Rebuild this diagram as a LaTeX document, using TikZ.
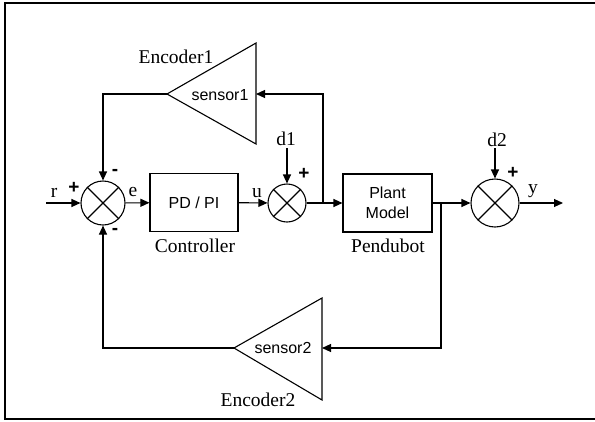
\documentclass[tikz,border=0pt]{standalone}
\usepackage{fontspec}
\setmainfont{Liberation Serif}
\setsansfont{Liberation Sans}
\usetikzlibrary{arrows.meta}
\begin{document}
\begin{tikzpicture}[x=1pt,y=-1pt,
  line width=1.1pt,
  >={Triangle[length=9pt,width=8pt]},
  blk/.style={draw,minimum width=88pt,minimum height=58pt,inner sep=0pt,
    font=\sffamily\fontsize{16}{20}\selectfont,align=center},
  sumc/.style={draw,circle,inner sep=0pt,minimum size=#1},
  lbl/.style={font=\fontsize{19.5}{22}\selectfont,inner sep=0pt},
  sns/.style={font=\sffamily\fontsize{16}{19}\selectfont,inner sep=0pt},
  sgn/.style={font=\sffamily\bfseries\fontsize{19}{21}\selectfont,inner sep=0pt},
  frame/.style={line width=1.6pt}
]
\useasboundingbox (0,0) rectangle (595,421);
% frame
\draw[frame] (597,3) -- (5,3) -- (5,419) -- (597,419);

% summing junctions
\node[sumc=44pt] (s1) at (103,203) {};
\node[sumc=38pt] (s2) at (287,203) {};
\node[sumc=48pt] (s3) at (495,203) {};
\foreach \s in {s1,s2,s3}{
  \draw (\s.north east) -- (\s.south west);
  \draw (\s.north west) -- (\s.south east);
}

% blocks
\node[blk] (pd) at (194,202.5) {PD / PI};
\node[blk,minimum width=89pt] (pl) at (387.5,203) {Plant\\Model};
\node[lbl] (ctl) at (195,246) {Controller};
\node[lbl] (pen) at (388,246) {Pendubot};

% sensor triangles
\coordinate (t1a) at (167,94);
\coordinate (t1b) at (256,94);
\draw (256,43) -- (t1a) -- (256,144) -- cycle;
\node[sns] (t1txt) at (220,95) {sensor1};
\node[lbl] (enc1) at (176,57) {Encoder1};

\coordinate (t2a) at (234,348);
\coordinate (t2b) at (322,348);
\draw (322,298) -- (t2a) -- (322,400) -- cycle;
\node[sns] (t2txt) at (283,348) {sensor2};
\node[lbl] (enc2) at (258,400) {Encoder2};

% signal labels
\node[lbl] (r) at (54,193) {r};
\node[lbl] (e) at (133,192) {e};
\node[lbl] (u) at (257,193) {u};
\node[lbl] (y) at (533,191) {y};
\node[lbl] (d1) at (286,139) {d1};
\node[lbl] (d2) at (497,140) {d2};

% signs
\node[sgn] (p1) at (74,188) {+};
\node[sgn] (m1) at (115,172) {-};
\node[sgn] (m2) at (115,231) {-};
\node[sgn] (p2) at (304,174) {+};
\node[sgn] (p3) at (513,173) {+};

% connectors
\coordinate (in) at (46,203);
\coordinate (b1) at (323,203);
\coordinate (b2) at (441,203);
\coordinate (out) at (563,203);
\coordinate (d1s) at (287,148);
\coordinate (d2s) at (495,148);

\draw[->] (in) -- (s1);
\draw[->] (s1) -- (pd);
\draw[->] (pd) -- (s2);
\draw[->] (s2) -- (pl);
\draw[->] (b1) |- (t1b);
\draw[->] (t1a) -| (s1);
\draw[->] (pl) -- (s3);
\draw[->] (b2) |- (t2b);
\draw[->] (t2a) -| (s1);
\draw[->] (s3) -- (out);
\draw[->] (d1s) -- (s2);
\draw[->] (d2s) -- (s3);
\end{tikzpicture}
\end{document}
